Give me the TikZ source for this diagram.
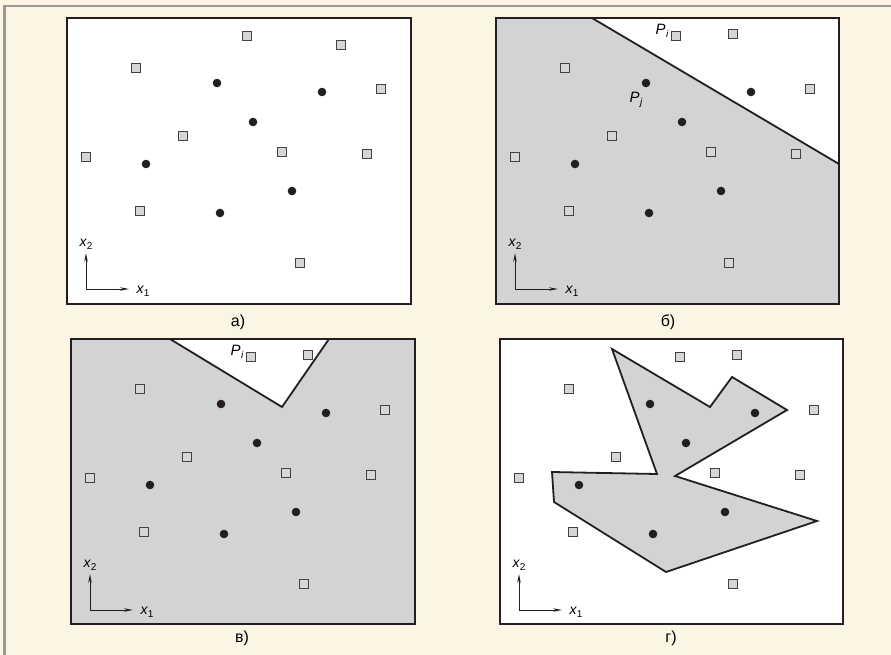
\documentclass[tikz,border=0pt]{standalone}
\usepackage{fontspec}
\setmainfont{Liberation Sans}
\definecolor{cream}{HTML}{FDF5E4}
\definecolor{edgegray}{HTML}{9A9A9C}
\definecolor{regiongray}{HTML}{D1D3D4}
\definecolor{sqfill}{HTML}{D6D6D6}
\definecolor{ink}{HTML}{231F20}
\usetikzlibrary{arrows.meta}
\tikzset{
  frame/.style={draw=ink, line width=2.4pt},
  cut/.style={draw=ink, line width=1.8pt, line join=miter},
  sq/.style={draw=ink!85, fill=sqfill, line width=1.4pt},
  dot/.style={fill=ink},
  axis/.style={draw=ink, line width=0.9pt, -{Stealth[length=9pt,width=3.5pt]}},
  caption/.style={font=\fontsize{16}{16}\selectfont, inner sep=0pt},
  axlabel/.style={font=\fontsize{14}{14}\selectfont, inner sep=0pt},
  plabel/.style={font=\fontsize{15}{15}\selectfont, inner sep=0pt}
}
\newcommand\sublab[2]{{\itshape #1}\kern0.3pt\raisebox{-3pt}{\fontsize{10}{10}\selectfont #2}}
\newcommand\mypoints[3]{%
  \foreach \px/\py in {180/18,#2/#3,69/50,314/71,116/118,19/139,215/134,300/136,73/193,233/245}
    {\draw[sq] (\px-4.5,\py-4.5) rectangle (\px+4.5,\py+4.5);}
  \foreach \px/\py in {150/65,255/74,186/104,79/146,225/173,153/195}
    {\fill[dot] (\px,\py) circle (4.3);}
  \coordinate (#1o) at (19,271);
  \coordinate (#1u) at (19,235);
  \coordinate (#1r) at (62,271);
  \draw[axis] (#1o) -- (#1u);
  \draw[axis] (#1o) -- (#1r);
  \node[axlabel] (#1x2) at (19,226) {\sublab{x}{2}};
  \node[axlabel] (#1x1) at (76,273) {\sublab{x}{1}};
}
\begin{document}
\begin{tikzpicture}[x=1pt,y=-1pt]
\useasboundingbox (0,0) rectangle (891,655);
\fill[cream] (0,0) rectangle (891,655);
\draw[edgegray, line width=2.5pt] (3,6) -- (891,6);
\draw[edgegray, line width=3pt] (4.5,5) -- (4.5,655);

% panel a
\begin{scope}[shift={(67,18)}]
  \fill[white] (0,0) rectangle (344,286);
  \mypoints{a}{274}{27}
  \draw[frame] (0,0) rectangle (344,286);
  \node[caption] (capa) at (171,304) {а)};
\end{scope}

% panel b
\begin{scope}[shift={(496,18)}]
  \fill[regiongray] (0,0) rectangle (343,286);
  \fill[white] (96,0) -- (343,0) -- (343,146) -- cycle;
  \coordinate (b1) at (96,0);
  \coordinate (b2) at (343,146);
  \draw[cut] (b1) -- (b2);
  \mypoints{b}{237}{16}
  \node[plabel] (bpi) at (166,13) {\sublab{P}{\itshape i}};
  \node[plabel] (bpj) at (140,82) {\sublab{P}{\itshape j}};
  \draw[frame] (0,0) rectangle (343,286);
  \node[caption] (capb) at (172,304) {б)};
\end{scope}

% panel c
\begin{scope}[shift={(71,339)}]
  \fill[regiongray] (0,0) rectangle (344,285);
  \coordinate (c1) at (99,0);
  \coordinate (c2) at (211,68);
  \coordinate (c3) at (258,0);
  \fill[white] (c1) -- (c2) -- (c3) -- cycle;
  \draw[cut] (c1) -- (c2) -- (c3);
  \mypoints{c}{237}{16}
  \node[plabel] (cpi) at (166,13) {\sublab{P}{\itshape i}};
  \draw[frame] (0,0) rectangle (344,285);
  \node[caption] (capc) at (171,299) {в)};
\end{scope}

% panel d
\begin{scope}[shift={(500,339)}]
  \fill[white] (0,0) rectangle (343,285);
  \draw[cut, fill=regiongray] (112,10) -- (210,68) -- (232,38) -- (287,71) -- (175,137)
     -- (317,182) -- (166,233) -- (54,163) -- (52,133) -- (157,135) -- cycle;
  \mypoints{d}{237}{16}
  \draw[frame] (0,0) rectangle (343,285);
  \node[caption] (capd) at (171,299) {г)};
\end{scope}
\end{tikzpicture}
\end{document}
